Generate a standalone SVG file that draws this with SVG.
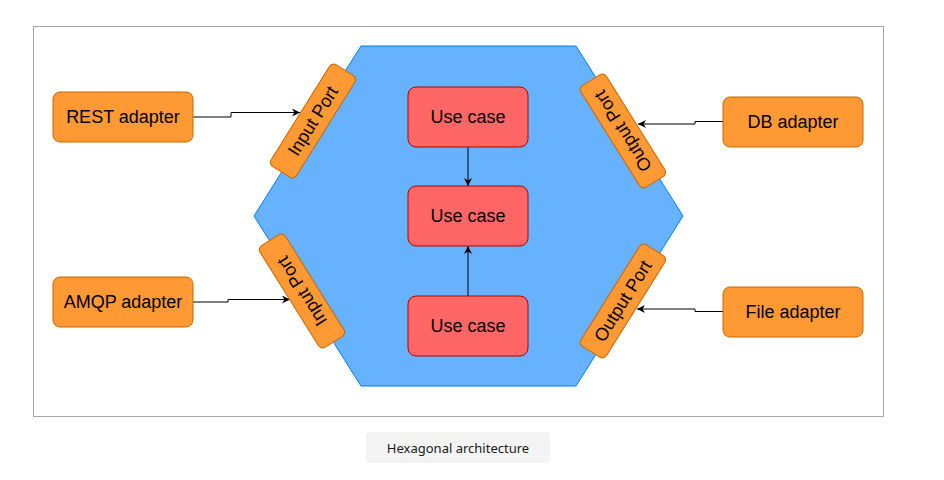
<svg xmlns="http://www.w3.org/2000/svg" width="944" height="480" viewBox="0 0 944 480">
<style>
.frame{fill:#fff;stroke:#a6a6a6;stroke-width:1}
.hex{fill:#66B2FF;stroke:#007FFF;stroke-width:1}
.uc{fill:#FF6666;stroke:#B20000;stroke-width:1}
.ad{fill:#FF9933;stroke:#CC6600;stroke-width:1}
.t{font-family:"Liberation Sans",Arial,sans-serif;font-size:18px;fill:#000;text-anchor:middle;dominant-baseline:central}
.cap{font-family:"Noto Sans","Open Sans",sans-serif;font-size:13px;fill:#1a1a1a;text-anchor:middle;dominant-baseline:central}
.c{fill:none;stroke:#000;stroke-width:1}
</style>
<defs>
<marker id="arr" viewBox="0 0 10 10" refX="10" refY="5" markerWidth="8" markerHeight="8" markerUnits="userSpaceOnUse" orient="auto">
<path d="M0,0 L10,5 L0,10 L3,5 Z" fill="#000"/>
</marker>
</defs>
<rect width="944" height="480" fill="#fff"/>
<rect class="frame" x="33.5" y="26.5" width="850" height="390"/>
<g id="hexagon"><polygon class="hex" points="361,46 576,46 683,216 576,386 361,386 254,216"/></g>
<g id="connectors">
<polyline class="c" points="193,117 231,117 231,112.5 300,112.5" marker-end="url(#arr)"/>
<polyline class="c" points="193,302 228,302 228,299.5 290,299.5" marker-end="url(#arr)"/>
<polyline class="c" points="723,121.5 695,121.5 695,124 638,124" marker-end="url(#arr)"/>
<polyline class="c" points="723,311.5 695,311.5 695,309 637,309" marker-end="url(#arr)"/>
<line class="c" x1="468" y1="147" x2="468" y2="186" marker-end="url(#arr)"/>
<line class="c" x1="468" y1="296" x2="468" y2="246" marker-end="url(#arr)"/>
</g>
<g id="usecase1"><rect class="uc" x="408" y="87" width="120" height="60" rx="8"/><text class="t" x="468" y="117">Use case</text></g>
<g id="usecase2"><rect class="uc" x="408" y="186" width="120" height="60" rx="8"/><text class="t" x="468" y="216">Use case</text></g>
<g id="usecase3"><rect class="uc" x="408" y="296" width="120" height="60" rx="8"/><text class="t" x="468" y="326">Use case</text></g>
<g id="rest"><rect class="ad" x="53" y="92" width="140" height="50" rx="7"/><text class="t" x="123" y="117">REST adapter</text></g>
<g id="amqp"><rect class="ad" x="53" y="277" width="140" height="50" rx="7"/><text class="t" x="123" y="302">AMQP adapter</text></g>
<g id="db"><rect class="ad" x="723" y="97" width="140" height="50" rx="7"/><text class="t" x="793" y="122">DB adapter</text></g>
<g id="file"><rect class="ad" x="723" y="287" width="140" height="50" rx="7"/><text class="t" x="793" y="312">File adapter</text></g>
<g id="inport1" transform="translate(313,121) rotate(-58)"><rect class="ad" x="-60" y="-15" width="120" height="30" rx="5"/><text class="t" x="0" y="0">Input Port</text></g>
<g id="inport2" transform="translate(302,291) rotate(238)"><rect class="ad" x="-60" y="-15" width="120" height="30" rx="5"/><text class="t" x="0" y="0">Input Port</text></g>
<g id="outport1" transform="translate(623,131) rotate(238)"><rect class="ad" x="-60" y="-15" width="120" height="30" rx="5"/><text class="t" x="0" y="0">Output Port</text></g>
<g id="outport2" transform="translate(623,301) rotate(-58)"><rect class="ad" x="-60" y="-15" width="120" height="30" rx="5"/><text class="t" x="0" y="0">Output Port</text></g>
<g id="caption"><rect x="366" y="432" width="184" height="31" rx="4" fill="#f3f3f3"/><text class="cap" x="458" y="448">Hexagonal architecture</text></g>
</svg>
